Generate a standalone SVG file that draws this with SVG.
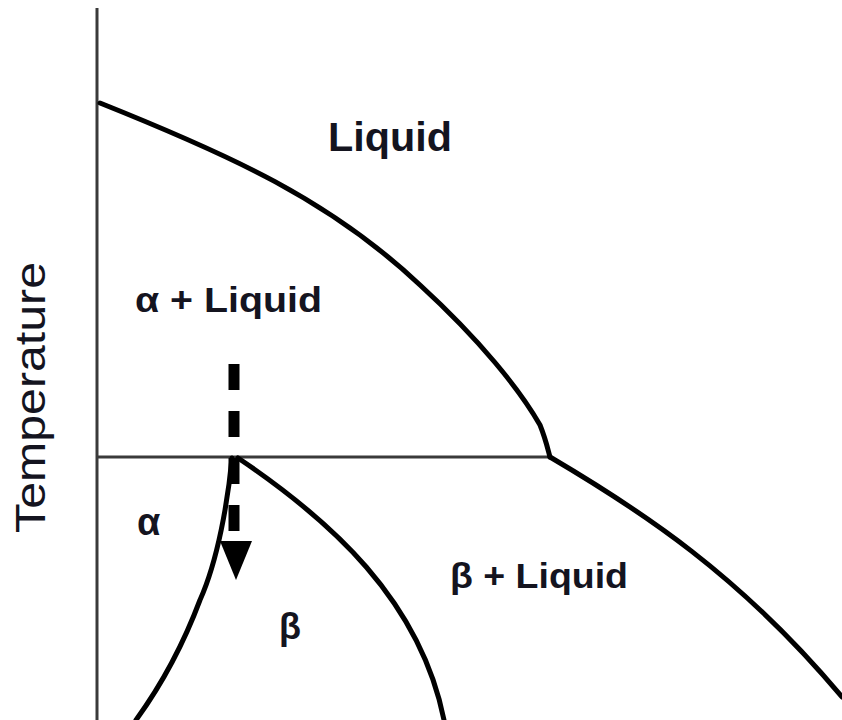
<svg xmlns="http://www.w3.org/2000/svg" width="842" height="720" viewBox="0 0 842 720">
<defs>
<style>
.ax{stroke:#3a3a3a;stroke-width:3;fill:none}
.cv{stroke:#000;stroke-width:5;fill:none;stroke-linecap:round;stroke-linejoin:round}
.lb{font-family:"Liberation Sans",Arial,sans-serif;font-weight:bold;fill:#14141f}
.ax-t{font-family:"Liberation Sans",Arial,sans-serif;fill:#14141f}
</style>
</defs>
<rect width="842" height="720" fill="#fff"/>
<g id="axes">
<line class="ax" x1="97" y1="8" x2="97" y2="720"/>
<line class="ax" x1="97" y1="457" x2="550" y2="457"/>
</g>
<g id="curves">
<path class="cv" d="M100,103 C230,155 330,200 420,285 C480,340 520,390 540,425 C546,440 548,450 550,457"/>
<path class="cv" d="M550,457 C640,510 740,575 842,697"/>
<path class="cv" d="M232,458 C228,500 218,560 200,600 C185,640 165,680 136,720"/>
<path class="cv" d="M238,458 C330,520 420,600 444,720"/>
</g>
<g id="arrow">
<line x1="234" y1="364" x2="234" y2="540" stroke="#000" stroke-width="11" stroke-dasharray="26,21"/>
<polygon points="220,541 252,541 236,580" fill="#000"/>
</g>
<g id="labels">
<text class="lb" x="328" y="151" font-size="40" textLength="124" lengthAdjust="spacingAndGlyphs">Liquid</text>
<text class="lb" x="135" y="312" font-size="35" textLength="187" lengthAdjust="spacingAndGlyphs">α + Liquid</text>
<text class="lb" x="450" y="588" font-size="35" textLength="178" lengthAdjust="spacingAndGlyphs">β + Liquid</text>
<text class="lb" x="137" y="535" font-size="38">α</text>
<text class="lb" x="279" y="639" font-size="36">β</text>
<text class="ax-t" transform="translate(45,533) rotate(-90)" font-size="42" textLength="271" lengthAdjust="spacingAndGlyphs">Temperature</text>
</g>
</svg>
